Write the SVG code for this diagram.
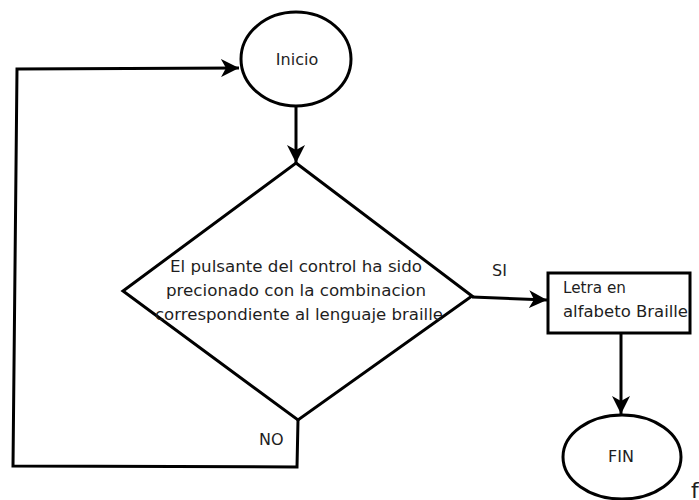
<svg xmlns="http://www.w3.org/2000/svg" width="699" height="500" viewBox="0 0 699 500">
<defs>
<marker id="arr" markerWidth="18" markerHeight="18" refX="18" refY="9" orient="auto" markerUnits="userSpaceOnUse" viewBox="0 0 18 18">
<path d="M0,0 L18,9 L0,18 L5,9 Z" fill="#000"/>
</marker>
</defs>
<style>
.shape{fill:#fff;stroke:#000;stroke-width:3}
.line{fill:none;stroke:#000;stroke-width:3}
text{font-family:"DejaVu Sans","Liberation Sans",sans-serif;fill:#1e1e1e;font-size:16px}
</style>
<rect width="699" height="500" fill="#fff"/>
<g id="connectors">
<path class="line" d="M296,106 L296,163" marker-end="url(#arr)"/>
<path class="line" d="M298,420 L297,467 L13,466 L17,69 L239,68" marker-end="url(#arr)"/>
<path class="line" d="M472,297 L547,300" marker-end="url(#arr)"/>
<path class="line" d="M621,333 L621,414" marker-end="url(#arr)"/>
</g>
<g id="inicio">
<ellipse class="shape" cx="296" cy="59" rx="55" ry="47"/>
<text x="297" y="65" text-anchor="middle">Inicio</text>
</g>
<g id="decision">
<polygon class="shape" points="296,163 472,296 298,420 123,291"/>
<text x="296" y="272" text-anchor="middle" textLength="252" lengthAdjust="spacingAndGlyphs">El pulsante del control ha sido</text>
<text x="296" y="296" text-anchor="middle" textLength="260" lengthAdjust="spacingAndGlyphs">precionado con la combinacion</text>
<text x="299" y="320" text-anchor="middle" textLength="288" lengthAdjust="spacingAndGlyphs">correspondiente al lenguaje braille</text>
</g>
<g id="letra">
<rect class="shape" x="548" y="273" width="142" height="60"/>
<text x="563" y="293" textLength="63" lengthAdjust="spacingAndGlyphs">Letra en</text>
<text x="563" y="317" textLength="125" lengthAdjust="spacingAndGlyphs">alfabeto Braille</text>
</g>
<g id="fin">
<ellipse class="shape" cx="622" cy="457" rx="59" ry="42"/>
<text x="621" y="462" text-anchor="middle">FIN</text>
</g>
<g id="labels">
<text x="492" y="276">SI</text>
<text x="259" y="445">NO</text>
<text x="691" y="498" style="font-size:22px">f</text>
</g>
</svg>
